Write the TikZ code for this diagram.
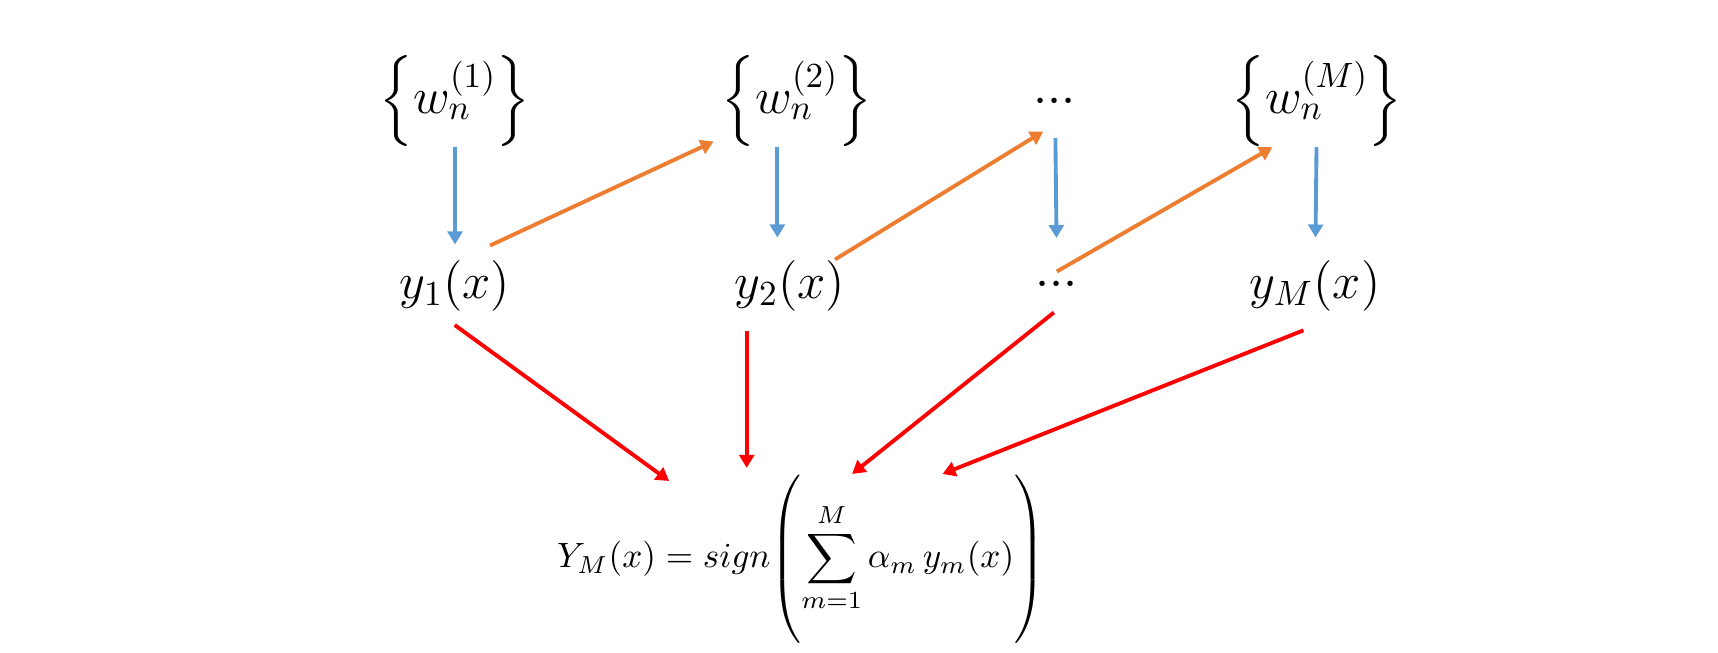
\documentclass[tikz,border=0pt]{standalone}
\usepackage{amsmath}
\usetikzlibrary{arrows.meta}
\definecolor{wblue}{RGB}{91,155,213}
\definecolor{porange}{RGB}{237,125,49}
\definecolor{vred}{RGB}{255,0,0}

\begin{document}
\begin{tikzpicture}[scale=1.0,
    big/.style={inner sep=0pt,font=\fontsize{14}{17}\selectfont},
    tip/.style={-{Triangle[length=3.7pt,width=4.2pt]},line width=1.1pt},
    down/.style={tip,wblue},
    pass/.style={tip,porange},
    vote/.style={tip,vred}]
    \useasboundingbox (0,0) rectangle (17.18,6.53);
    \node[big] (w1) at (4.55,5.52) {$\Bigl\{w_n^{(1)}\Bigr\}$};
    \node[big] (w2) at (7.97,5.52) {$\Bigl\{w_n^{(2)}\Bigr\}$};
    \node[big] (wd) at (10.55,5.52) {$\vphantom{(}{\cdot}{\cdot}{\cdot}$};
    \node[big] (wM) at (13.17,5.52) {$\Bigl\{w_n^{(M)}\Bigr\}$};
    \node[big] (y1) at (4.55,3.675) {$y_1(x)$};
    \node[big] (y2) at (7.90,3.675) {$y_2(x)$};
    \node[big] (yd) at (10.57,3.69) {$\vphantom{(}{\cdot}{\cdot}{\cdot}$};
    \node[big] (yM) at (13.15,3.675) {$y_M(x)$};
    \node[inner sep=0pt,font=\fontsize{9.7}{12}\selectfont] (F) at (8.01,0.94)
        {$\displaystyle Y_M(x)=sign\!\left(\vrule height 25pt depth 21pt width 0pt\sum_{m=1}^{M}\alpha_m\,y_m(x)\right)$};
    \draw[down,shorten >=1.5mm] (w1) -- (y1);
    \draw[down,shorten >=2.2mm] (w2.247) -- (w2.247 |- y2.north);
    \draw[down,shorten <=1.1mm,shorten >=2mm] (wd) -- (yd);
    \draw[down,shorten >=2.2mm] (wM) -- (yM);
    \draw[pass,shorten <=3.3mm,shorten >=0.8mm] (y1.79) -- (w2.206);
    \draw[pass,shorten >=0.85mm] (y2.30) -- (wd.260);
    \draw[pass,shorten <=2.5mm] (yd.west) -- (wM.226);
    \draw[vote,shorten <=2.3mm,shorten >=-1.2mm] (y1.234) -- (F.149);
    \draw[vote,shorten <=2mm,shorten >=0.6mm] (y2.211) -- (y2.211 |- F.north);
    \draw[vote,shorten <=0.4mm] (yd.south) -- (F.59);
    \draw[vote,shorten <=5.1mm] (yM.324) -- (F.31);
\end{tikzpicture}
\end{document}
